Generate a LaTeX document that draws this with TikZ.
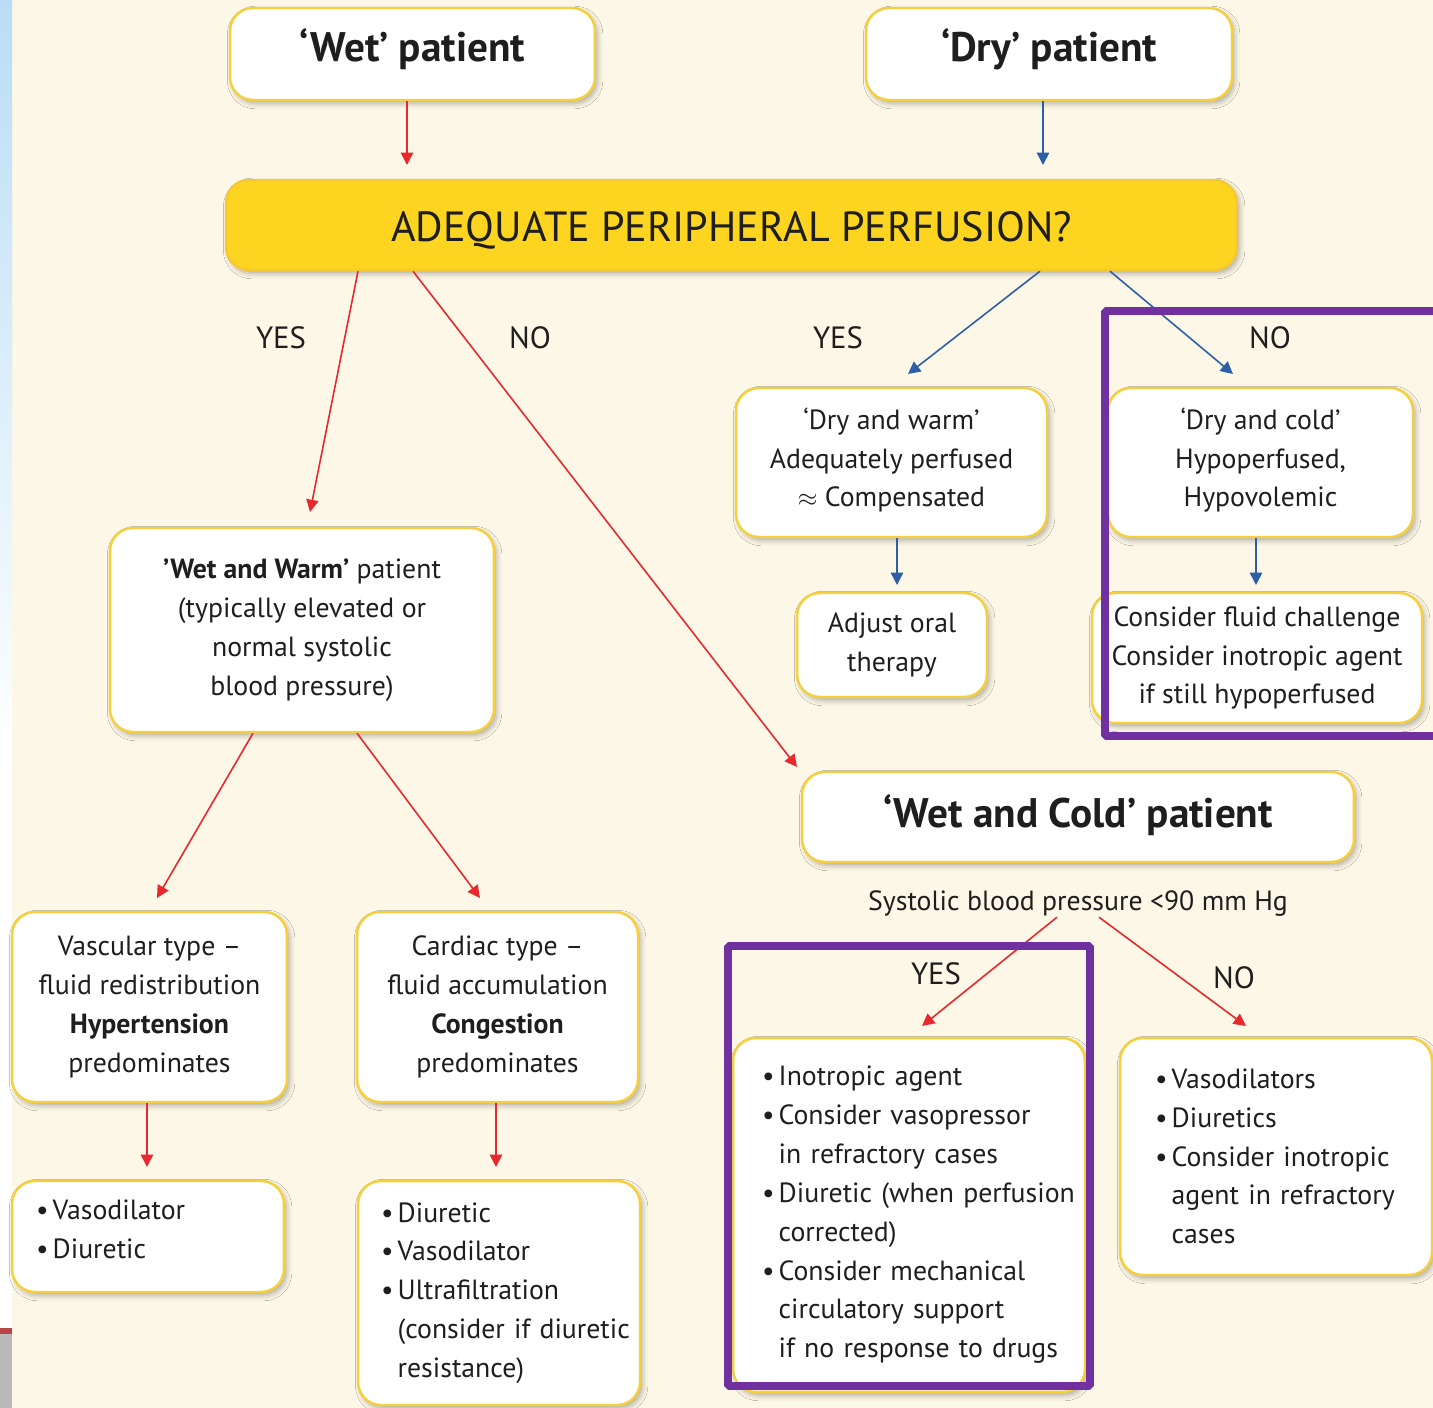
\documentclass[tikz,border=0pt]{standalone}
\usepackage{fontspec}
\setmainfont{PT Sans}
\usetikzlibrary{arrows.meta,shadows.blur}
\definecolor{bgc}{HTML}{FCF7E6}
\definecolor{bordc}{HTML}{F6D03C}
\definecolor{yelc}{HTML}{FDD41F}
\definecolor{redc}{HTML}{E8282C}
\definecolor{bluec}{HTML}{2B5FA8}
\definecolor{purc}{HTML}{7030A0}
\definecolor{txtc}{HTML}{1E1E1E}
\definecolor{stripc}{HTML}{B9DDF6}
\newcommand{\myitem}[1]{\mbox{\makebox[0.6em][l]{\textbullet}#1}}
\newcommand{\mycont}[1]{\mbox{\hspace*{0.6em}#1}}
\tikzset{
  box/.style={draw=bordc, line width=1.4pt, fill=white, rounded corners=13pt,
    blur shadow={shadow xshift=1.5pt, shadow yshift=-2pt, shadow blur radius=3pt, shadow opacity=30},
    align=center, text=txtc, font=\fontsize{15.8}{22.1}\selectfont, inner sep=0pt},
  listbox/.style={box, align=left},
  ttl/.style={font=\bfseries\fontsize{23.5}{26}\selectfont},
  lbl/.style={text=txtc, font=\fontsize{17.5}{20}\selectfont, inner sep=0pt},
  rarr/.style={color=redc, line width=0.9pt, -{Triangle[length=7pt,width=7pt]}},
  barr/.style={color=bluec, line width=0.9pt, -{Triangle[length=7pt,width=7pt]}},
  hilite/.style={draw=purc, line width=4.5pt, rounded corners=1pt}
}
\begin{document}
\begin{tikzpicture}[x=0.02cm,y=-0.02cm]
\useasboundingbox (0,0) rectangle (1433,1408);
\fill[bgc] (0,0) rectangle (1433,1408);
% left screenshot strip
\shade[top color=stripc, bottom color=white] (0,0) rectangle (12,760);
\fill[white] (0,760) rectangle (12,1330);
\fill[red!45!gray] (0,1328) rectangle (12,1334);
\fill[gray!55] (0,1334) rectangle (12,1408);

% top row
\node[box, ttl, minimum width=7.3cm, minimum height=1.84cm, text height=14pt, text depth=5pt] (wet) at (412.5,54) {‘Wet’ patient};
\node[box, ttl, minimum width=7.32cm, minimum height=1.84cm, text height=14pt, text depth=5pt] (dry) at (1049,54) {‘Dry’ patient};
\node[box, draw=bordc!90!orange, fill=yelc, minimum width=20.22cm, minimum height=1.8cm,
      text height=18.5pt, text depth=0pt,
      font=\fontsize{24}{26}\selectfont] (q) at (731.5,225) {ADEQUATE PERIPHERAL PERFUSION?};

\coordinate (t1) at (407,165);
\coordinate (t2) at (1043,165);
\draw[rarr] (wet.south -| t1) -- (t1);
\draw[barr] (dry.south -| t2) -- (t2);

% labels
\node[lbl] (yes1) at (281,338) {YES};
\node[lbl] (no1) at (530,338) {NO};
\node[lbl] (yes2) at (838,338) {YES};
\node[lbl] (no2) at (1270,338) {NO};

% dry branch
\node[box, minimum width=6.22cm, minimum height=2.98cm] (dw) at (891.5,462.5)
  {‘Dry and warm’\\Adequately perfused\\$\approx$ Compensated\rule[-6pt]{0pt}{0pt}};
\node[box, minimum width=6.1cm, minimum height=2.98cm] (dc) at (1260.5,462.5)
  {‘Dry and cold’\\Hypoperfused,\\Hypovolemic\rule[-6pt]{0pt}{0pt}};
\node[box, minimum width=3.8cm, minimum height=2.08cm] (adj) at (892,645)
  {Adjust oral\\therapy};
\node[box, minimum width=6.6cm, minimum height=2.6cm] (fluid) at (1257,658)
  {Consider fluid challenge\\Consider inotropic agent\\if still hypoperfused};

\coordinate (s5) at (1040,270); \coordinate (t5) at (908,374);
\coordinate (s6) at (1110,270); \coordinate (t6) at (1233,374);
\draw[barr] (q.south -| s5) -- (t5);
\draw[barr] (q.south -| s6) -- (t6);
\coordinate (t7) at (897,585);
\coordinate (t8) at (1256,585);
\draw[barr] (dw.south -| t7) -- (t7);
\draw[barr] (dc.south -| t8) -- (t8);

% wet branch
\node[box, minimum width=7.68cm, minimum height=4.08cm] (ww) at (302,630)
  {{\bfseries ’Wet and Warm’} patient\\(typically elevated or\\normal systolic\\blood pressure)};
\node[box, minimum width=5.5cm, minimum height=3.8cm] (vasc) at (149.5,1007)
  {Vascular type --\\fluid redistribution\\{\bfseries Hypertension}\\predominates};
\node[box, minimum width=5.62cm, minimum height=3.8cm] (card) at (497.5,1007)
  {Cardiac type --\\fluid accumulation\\{\bfseries Congestion}\\predominates};
\node[listbox, minimum height=2.22cm, inner xsep=0.48cm, text width=4.48cm] (vd) at (148,1236.5)
  {\myitem{Vasodilator}\\\myitem{Diuretic}\rule[-8pt]{0pt}{0pt}};
\node[listbox, minimum height=4.48cm, inner xsep=0.46cm, text width=4.72cm] (diu) at (499,1293)
  {\myitem{Diuretic}\\\myitem{Vasodilator}\\\myitem{Ultrafiltration}\\\mycont{(consider if diuretic}\\\mycont{resistance)}};

\coordinate (s3) at (358,270); \coordinate (t3) at (310,512);
\coordinate (s4) at (413,270); \coordinate (t4) at (797,767);
\draw[rarr] (q.south -| s3) -- (t3);
\draw[rarr] (q.south -| s4) -- (t4);
\coordinate (s9) at (253,732); \coordinate (t9) at (157,898);
\coordinate (s10) at (357,732); \coordinate (t10) at (480,898);
\draw[rarr] (ww.south -| s9) -- (t9);
\draw[rarr] (ww.south -| s10) -- (t10);
\coordinate (t11) at (147,1167);
\coordinate (t12) at (496,1167);
\draw[rarr] (vasc.south -| t11) -- (t11);
\draw[rarr] (card.south -| t12) -- (t12);

% wet and cold
\node[box, ttl, minimum width=11.04cm, minimum height=1.8cm, text height=16pt, text depth=3.5pt] (wc) at (1078,817) {‘Wet and Cold’ patient};
\node[text=txtc, font=\fontsize{15.8}{18}\selectfont, inner sep=0pt] (sbp) at (1078,904) {Systolic blood pressure <90 mm Hg};
\node[lbl] (yes3) at (936,974) {YES};
\node[lbl] (no3) at (1234,978) {NO};
\node[listbox, minimum height=7.08cm, inner xsep=0.58cm, text width=5.88cm] (ino) at (909,1215)
  {\myitem{Inotropic agent}\\\myitem{Consider vasopressor}\\\mycont{in refractory cases}\\\myitem{Diuretic (when perfusion}\\\mycont{corrected)}\\\myitem{Consider mechanical}\\\mycont{circulatory support}\\\mycont{if no response to drugs}};
\node[listbox, minimum height=4.74cm, inner xsep=0.7cm, text width=4.84cm] (vds) at (1276,1156.5)
  {\myitem{Vasodilators}\\\myitem{Diuretics}\\\myitem{Consider inotropic}\\\mycont{agent in refractory}\\\mycont{cases}};
\coordinate (s13) at (1057,930); \coordinate (t13) at (922,1026);
\coordinate (s14) at (1099,930); \coordinate (t14) at (1246,1026);
\draw[rarr] (sbp.south -| s13) -- (t13);
\draw[rarr] (sbp.south -| s14) -- (t14);

% highlight frames
\draw[hilite] (1105,311) rectangle (1437,736);
\draw[hilite] (728,946) rectangle (1090,1386);
\end{tikzpicture}
\end{document}
